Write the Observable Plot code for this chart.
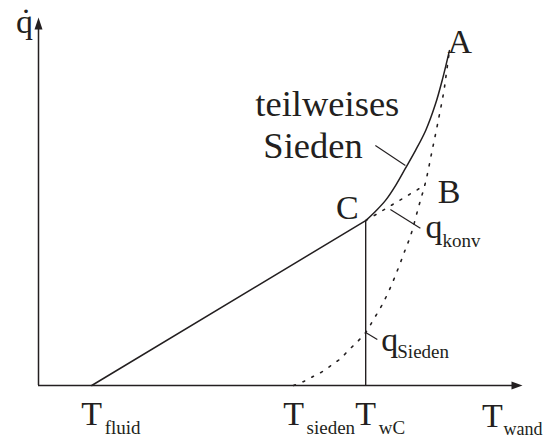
<!DOCTYPE html>
<html>
<head>
<meta charset="utf-8">
<script src="https://cdn.jsdelivr.net/npm/d3@7"></script>
<script src="https://cdn.jsdelivr.net/npm/@observablehq/plot@0.6"></script>
<style>
  body { margin: 0; background: #fff; }
</style>
</head>
<body>
<div id="chart"></div>
<script>
// Boiling curve schematic: heat flux q̇ over wall temperature T_wand (arbitrary units 0–100)

// Characteristic temperatures on the T_wand axis
const tickNames = ["fluid", "sieden", "wC"];
const tickValues = [11.0, 52.7, 67.6];

// Point C: onset of partial boiling (T_wC, q_C)
const cT = 67.6;
const cQ = 44.8;

// Point B: end of the convective extension
const bT = 79.8;
const bQ = 54.4;

// Partial boiling curve from C up to A
const boilT = [67.6, 69.6, 71.7, 73.8, 75.8, 77.9, 80.0, 82.0, 83.5, 84.9];
const boilQ = [44.8, 47.3, 50.3, 54.4, 59.0, 63.9, 69.3, 76.4, 83.4, 91.0];

// Fully developed nucleate boiling q_Sieden, starting at T_sieden
const sieT = [52.7, 54.8, 56.8, 58.7, 60.7, 62.4, 64.0, 65.5, 67.6, 69.2, 70.9,
              72.7, 74.4, 75.8, 76.9, 78.5, 80.0, 81.2, 82.4, 83.7, 84.3, 84.9];
const sieQ = [0, 1.1, 2.5, 3.8, 5.7, 7.3, 9.5, 11.4, 14.4, 17.9, 21.7,
              26.6, 32.1, 37.0, 40.8, 48.4, 55.4, 63.0, 70.7, 79.6, 85.1, 91.0];

// Leader lines: [x1, y1, x2, y2]
const leaderSieden = [69.6, 65.2, 75.8, 59.8];
const leaderKonv = [72.7, 47.8, 78.9, 42.7];
const leaderQSieden = [67.6, 14.4, 70.0, 12.5];
const leaders = [leaderSieden, leaderKonv, leaderQSieden];

const ink = "#231f20";
const font = "Liberation Serif, Times New Roman, DejaVu Serif, serif";
const big = 34;
const small = 19;

const boil = boilT.map((t, i) => ({t, q: boilQ[i]}));
const sieden = sieT.map((t, i) => ({t, q: sieQ[i]}));
const konvLow = [{t: tickValues[0], q: 0}, {t: cT, q: cQ}];
const konvHigh = [{t: cT, q: cQ}, {t: bT, q: bQ}];
const pointA = boil[boil.length - 1];

// Filled arrowheads for the axes (tip at the symbol origin)
const arrowUp = {draw(ctx) { ctx.moveTo(0, 0); ctx.lineTo(4, 12); ctx.lineTo(-4, 12); ctx.closePath(); }};
const arrowRight = {draw(ctx) { ctx.moveTo(0, 0); ctx.lineTo(-11, -4); ctx.lineTo(-11, 4); ctx.closePath(); }};

const txt = {fill: ink, lineAnchor: "bottom", fontSize: big, fontFamily: font};

const chart = Plot.plot({
  width: 544,
  height: 439,
  margin: 0,
  x: {domain: [0, 100], range: [38, 522], axis: null},
  y: {domain: [0, 100], range: [385, 17], axis: null},
  style: {background: "#fff", fontFamily: font, color: ink},
  marks: [
    // axes
    Plot.ruleX([0], {y1: 0, y2: 98, stroke: ink, strokeWidth: 1.5}),
    Plot.ruleY([0], {x1: 0, x2: 98, stroke: ink, strokeWidth: 1.5}),
    Plot.dot([{t: 0, q: 100}], {x: "t", y: "q", symbol: arrowUp, fill: ink, stroke: "none"}),
    Plot.dot([{t: 100, q: 0}], {x: "t", y: "q", symbol: arrowRight, fill: ink, stroke: "none"}),

    // vertical at T_wC
    Plot.ruleX([cT], {y1: 0, y2: cQ, stroke: ink, strokeWidth: 1.4}),

    // convective line T_fluid → C and its dotted extension to B
    Plot.line(konvLow, {x: "t", y: "q", stroke: ink, strokeWidth: 1.5}),
    Plot.line(konvHigh, {x: "t", y: "q", stroke: ink, strokeWidth: 1.6, strokeDasharray: "2,8"}),

    // nucleate boiling (dotted)
    Plot.line(sieden, {x: "t", y: "q", curve: "catmull-rom", stroke: ink, strokeWidth: 1.6, strokeDasharray: "2,8"}),

    // partial boiling curve C → A
    Plot.line(boil, {x: "t", y: "q", curve: "catmull-rom", stroke: ink, strokeWidth: 1.5}),

    // leader lines
    Plot.link(leaders, {x1: d => d[0], y1: d => d[1], x2: d => d[2], y2: d => d[3], stroke: ink, strokeWidth: 1.2}),

    // axis titles
    Plot.text(["q\u0307"], {x: 0, y: 100, text: d => d, textAnchor: "middle", dx: -14, dy: 15, ...txt}),
    Plot.text(["T"], {x: 100, y: 0, text: d => d, textAnchor: "middle", dx: -30, dy: 41, ...txt}),
    Plot.text(["wand"], {x: 100, y: 0, text: d => d, textAnchor: "start", dx: -19, dy: 49, ...txt, fontSize: 18}),

    // temperature labels
    Plot.text(tickValues, {x: d => d, y: 0, text: () => "T", textAnchor: "middle", dy: 39, ...txt}),
    Plot.text(tickValues, {x: d => d, y: 0, text: (d, i) => tickNames[i], textAnchor: "start", dx: 13, dy: 48, ...txt, fontSize: small}),

    // point labels
    Plot.text([pointA], {x: "t", y: "q", text: () => "A", textAnchor: "start", dx: -2, dy: 2, ...txt}),
    Plot.text([{t: bT, q: bQ}], {x: "t", y: "q", text: () => "B", textAnchor: "start", dx: 13, dy: 18, ...txt}),
    Plot.text([{t: cT, q: cQ}], {x: "t", y: "q", text: () => "C", textAnchor: "end", dx: -7, dy: -2, ...txt}),

    // curve labels
    Plot.text([leaderSieden], {x: d => d[0], y: d => d[1], text: () => "teilweises", textAnchor: "start", dx: -120, dy: -30, ...txt, fontSize: 36.5}),
    Plot.text([leaderSieden], {x: d => d[0], y: d => d[1], text: () => "Sieden", textAnchor: "start", dx: -112, dy: 12, ...txt, fontSize: 36.5}),
    Plot.text([leaderKonv], {x: d => d[2], y: d => d[3], text: () => "q", textAnchor: "start", dx: 5, dy: 10, ...txt}),
    Plot.text([leaderKonv], {x: d => d[2], y: d => d[3], text: () => "konv", textAnchor: "start", dx: 22, dy: 19, ...txt, fontSize: small}),
    Plot.text([leaderQSieden], {x: d => d[2], y: d => d[3], text: () => "q", textAnchor: "start", dx: 4, dy: 11, ...txt}),
    Plot.text([leaderQSieden], {x: d => d[2], y: d => d[3], text: () => "Sieden", textAnchor: "start", dx: 20, dy: 18, ...txt, fontSize: small})
  ]
});

document.getElementById("chart").append(chart);
</script>
</body>
</html>
